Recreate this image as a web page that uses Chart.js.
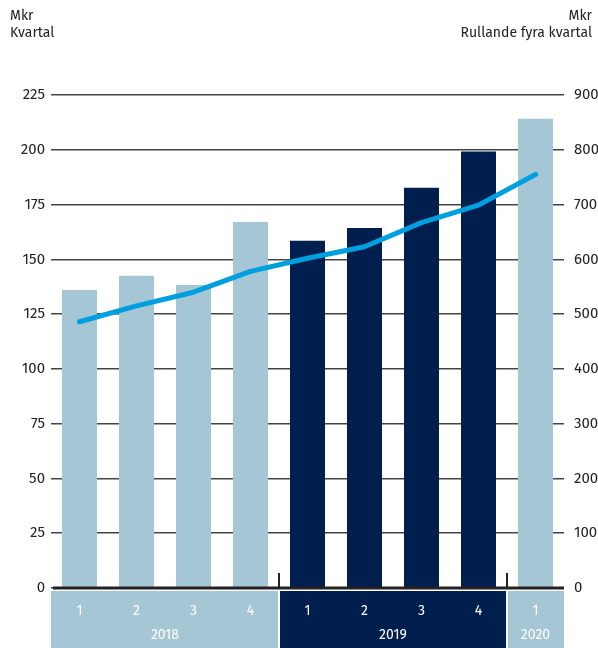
<!DOCTYPE html>
<html>
<head>
<meta charset="utf-8">
<script src="https://cdn.jsdelivr.net/npm/chart.js@4/dist/chart.umd.min.js"></script>
<style>
  html, body { margin: 0; padding: 0; background: #fff; }
  #wrap { position: relative; width: 598px; height: 648px; font-family: "Fira Sans", "Open Sans", sans-serif; color: #222; }
  .title { position: absolute; font-size: 14px; line-height: 17px; }
  #tl { left: 10px; top: 7px; }
  #tr { right: 6px; top: 7px; text-align: right; }
</style>
</head>
<body>
<div id="wrap">
  <canvas id="chart" width="598" height="648"></canvas>
  <div class="title" id="tl">Mkr<br>Kvartal</div>
  <div class="title" id="tr">Mkr<br>Rullande fyra kvartal</div>
</div>
<script>
// Data
const quarters = ['1', '2', '3', '4', '1', '2', '3', '4', '1'];
const years = ['2018', '2019', '2020'];
const yearSpan = [4, 4, 1];
const quarterValues = [136, 142.5, 138.3, 167, 158.5, 164.3, 182.7, 199.2, 214.2];
const rollingValues = [486, 515, 540, 578, 602, 623, 667, 699, 755];

const LIGHT = '#a5c7d5';
const DARK = '#001e4e';
const barColors = [LIGHT, LIGHT, LIGHT, LIGHT, DARK, DARK, DARK, DARK, LIGHT];
const bandColors = [LIGHT, DARK, LIGHT];
const FONT = '"Fira Sans", "Open Sans", sans-serif';

// Year bands under the axis + separator ticks
const yearBands = {
    id: 'yearBands',
    afterDraw(chart) {
        const ctx = chart.ctx;
        const x = chart.scales.x;
        const area = chart.chartArea;
        const step = x.getPixelForValue(1) - x.getPixelForValue(0);
        let start = 0;
        ctx.save();
        years.forEach((yr, i) => {
            const left = x.getPixelForValue(start) - step / 2;
            const right = x.getPixelForValue(start + yearSpan[i] - 1) + step / 2;
            const l = i === 0 ? left : left + 1;
            const r = i === years.length - 1 ? right : right - 1;
            ctx.fillStyle = bandColors[i];
            ctx.fillRect(l, area.bottom + 3, r - l, 648 - area.bottom - 3);

            ctx.fillStyle = '#ffffff';
            ctx.font = '14px ' + FONT;
            ctx.textAlign = 'center';
            ctx.textBaseline = 'middle';
            for (let q = start; q < start + yearSpan[i]; q++) {
                ctx.fillText(quarters[q], x.getPixelForValue(q), area.bottom + 23);
            }
            ctx.fillText(yr, (left + right) / 2, area.bottom + 47);

            if (i > 0) {
                ctx.strokeStyle = '#222';
                ctx.lineWidth = 2;
                ctx.beginPath();
                ctx.moveTo(left, area.bottom - 15);
                ctx.lineTo(left, area.bottom);
                ctx.stroke();
            }
            start += yearSpan[i];
        });
        // zero line on top of bars
        ctx.strokeStyle = '#222';
        ctx.lineWidth = 3;
        ctx.beginPath();
        ctx.moveTo(area.left + 2, area.bottom);
        ctx.lineTo(area.right, area.bottom);
        ctx.stroke();
        ctx.restore();
    }
};

new Chart(document.getElementById('chart'), {
    data: {
        labels: quarters,
        datasets: [
            {
                type: 'line',
                data: rollingValues,
                yAxisID: 'y2',
                borderColor: '#009fdf',
                borderWidth: 5,
                borderCapStyle: 'round',
                borderJoinStyle: 'round',
                pointRadius: 0,
                tension: 0,
                order: 0
            },
            {
                type: 'bar',
                data: quarterValues,
                yAxisID: 'y',
                backgroundColor: barColors,
                borderWidth: 0,
                categoryPercentage: 1,
                barPercentage: 0.614,
                order: 1
            }
        ]
    },
    options: {
        responsive: false,
        animation: false,
        layout: { padding: { top: 95, bottom: 60, left: 0, right: 0 } },
        plugins: { legend: { display: false }, tooltip: { enabled: false } },
        scales: {
            x: { display: false, offset: true },
            y: {
                position: 'left',
                min: 0, max: 225,
                afterFit: s => { s.width = 51; },
                border: { display: false },
                grid: {
                    color: '#444',
                    lineWidth: 1.5,
                    drawTicks: false
                },
                ticks: {
                    stepSize: 25,
                    padding: 6,
                    color: '#222',
                    font: { family: FONT, size: 15 }
                }
            },
            y2: {
                position: 'right',
                min: 0, max: 900,
                afterFit: s => { s.width = 34; },
                border: { display: false },
                grid: { display: false, drawOnChartArea: false },
                ticks: {
                    stepSize: 100,
                    padding: 2,
                    color: '#222',
                    font: { family: FONT, size: 15 }
                }
            }
        }
    },
    plugins: [yearBands]
});
</script>
</body>
</html>
